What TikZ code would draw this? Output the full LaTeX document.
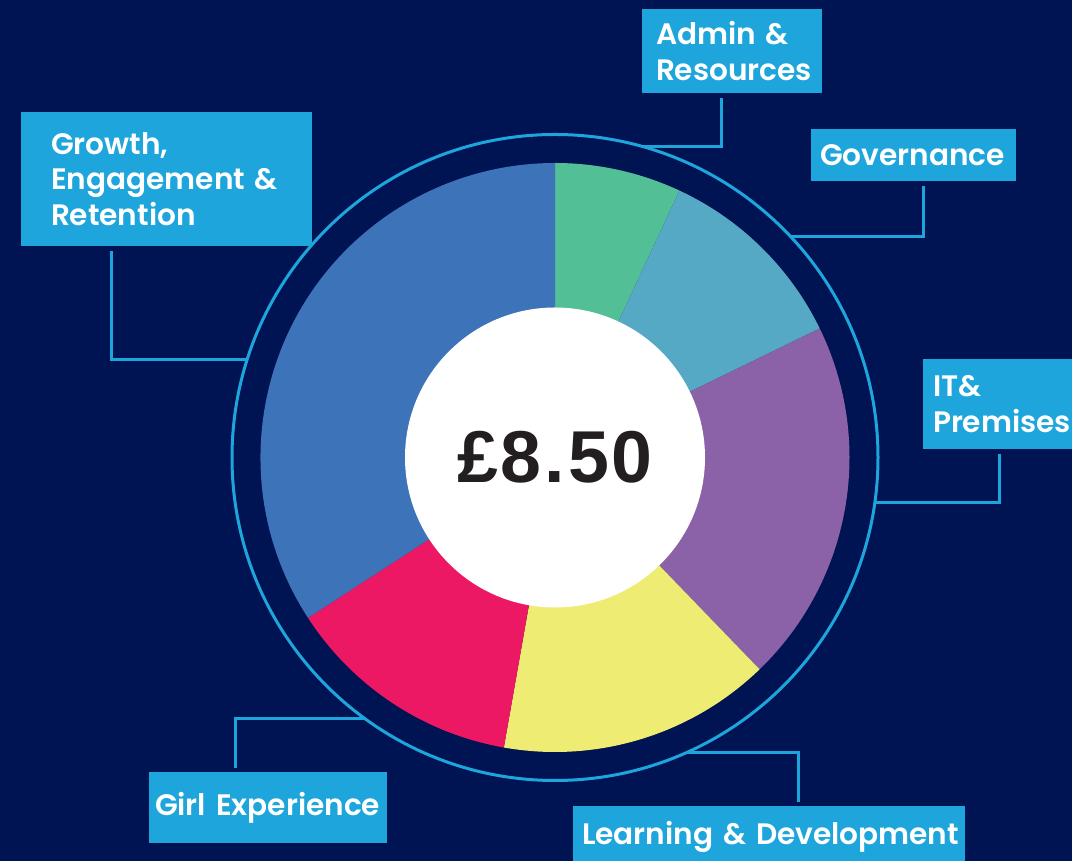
\documentclass[tikz,border=0pt]{standalone}
\usepackage{fontspec}
\setmainfont{Poppins}[UprightFont={* SemiBold}]
\newfontfamily\pricefont{Liberation Sans}[LetterSpace=4]
\hyphenpenalty=10000
\exhyphenpenalty=10000
\hbadness=10000
\hfuzz=20pt
\definecolor{navy}{RGB}{0,19,82}
\definecolor{sky}{RGB}{30,165,220}
\definecolor{grn}{RGB}{82,191,150}
\definecolor{tel}{RGB}{85,169,196}
\definecolor{purp}{RGB}{139,98,168}
\definecolor{yel}{RGB}{239,236,115}
\definecolor{pnk}{RGB}{236,24,99}
\definecolor{blu}{RGB}{61,115,184}
\definecolor{ink}{RGB}{35,31,32}

\begin{document}
\begin{tikzpicture}[x=1pt,y=1pt,
	lbl/.style={fill=sky, text=white, inner ysep=0pt, align=left, font=\fontsize{29.6}{35.5}\selectfont},
	lnk/.style={sky, line width=3pt},
	ring/.style={sky, line width=3pt}]
	\useasboundingbox		(0,0) rectangle (1072,861);
	\clip					(0,0) rectangle (1072,861);
	\fill[navy]				(0,0) rectangle (1072,861);

	\coordinate (c) at (555,403.5);

	\fill[grn]				(c) -- ++(90:294.5) arc[start angle=90, end angle=65, radius=294.5] -- cycle;
	\fill[tel]				(c) -- ++(65:294.5) arc[start angle=65, end angle=26, radius=294.5] -- cycle;
	\fill[purp]				(c) -- ++(26:294.5) arc[start angle=26, end angle=-46, radius=294.5] -- cycle;
	\fill[yel]				(c) -- ++(-46:294.5) arc[start angle=-46, end angle=-100, radius=294.5] -- cycle;
	\fill[pnk]				(c) -- ++(-100:294.5) arc[start angle=-100, end angle=-147, radius=294.5] -- cycle;
	\fill[blu]				(c) -- ++(-147:294.5) arc[start angle=-147, end angle=-270, radius=294.5] -- cycle;
	\fill[white]			(c) circle[radius=150];
	\draw[ring]				(c) circle[radius=323];

	\node[font=\pricefont\bfseries\fontsize{73.5}{80}\selectfont, text=ink] (price) at (c) {£8.50};

	\node[lbl, minimum width=180, minimum height=84, text width=152, inner xsep=14]	(admin) at (732,810) {Admin~\&\\Resources};
	\node[lbl, minimum width=205, minimum height=52, text width=187, inner xsep=9]	(gov) at (913.5,706) {Governance};
	\node[lbl, minimum width=169, minimum height=90, text width=149, inner xsep=10]	(it) at (1007.5,457) {IT\&\\Premises};
	\node[lbl, minimum width=291, minimum height=134, text width=231, inner xsep=30]	(grow) at (166.5,682) {Growth,\\Engagement~\&\\Retention};
	\node[lbl, minimum width=237.5, minimum height=71, text width=225.5, inner xsep=6]	(girl) at (267.75,53.5) {Girl~Experience};
	\node[lbl, minimum width=392, minimum height=62, text width=374, inner xsep=9]	(learn) at (769,24) {Learning~\&~Development};

	\coordinate (pa) at ([shift={(74.3:323)}]c);
	\coordinate (pg) at ([shift={(43.05:323)}]c);
	\coordinate (pi) at ([shift={(-8.1:323)}]c);
	\coordinate (pr) at ([shift={(162.4:323)}]c);
	\coordinate (pe) at ([shift={(-126:323)}]c);
	\coordinate (pl) at ([shift={(-65.9:323)}]c);

	\draw[lnk]				(pa) -| ([xshift=-11,yshift=-5]admin.south);
	\draw[lnk]				(pg) -| ([xshift=9.5,yshift=-5]gov.south);
	\draw[lnk]				(pi) -| ([xshift=-8.5,yshift=-5]it.south);
	\draw[lnk]				(pr) -| ([xshift=-55.5,yshift=-5]grow.south);
	\draw[lnk]				(pe) -| ([xshift=-32,yshift=4]girl.north);
	\draw[lnk]				(pl) -| ([xshift=29.6,yshift=3.5]learn.north);
\end{tikzpicture}
\end{document}
